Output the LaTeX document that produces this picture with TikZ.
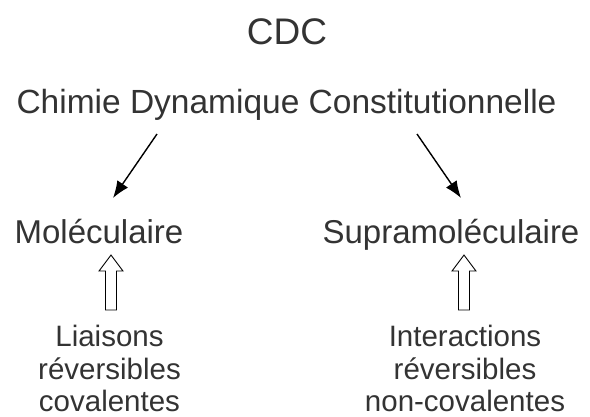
\documentclass[tikz,border=0pt]{standalone}
\usepackage{fontspec}
\setmainfont{Liberation Sans}
\usetikzlibrary{arrows.meta}
\definecolor{txt}{HTML}{333333}
\begin{document}
\begin{tikzpicture}[x=1pt,y=-1pt,
  lbl/.style={anchor=base,inner sep=0pt,text=txt,font=\fontsize{33}{40}\selectfont},
  small/.style={anchor=base,inner sep=0pt,text=txt,font=\fontsize{29.5}{34}\selectfont,align=center},
  thinarrow/.style={line width=1.4pt,-{Latex[length=17pt,width=13pt]}},
  hollow/.style={draw=black,fill=white,line width=0.9pt,line join=miter}]
\useasboundingbox (0,0) rectangle (590,416);
\node[lbl,font=\fontsize{37}{40}\selectfont] (cdc) at (287,44) {CDC};
\node[lbl,font=\fontsize{33.5}{40}\selectfont] (cdc2) at (286.5,113) {Chimie Dynamique Constitutionnelle};
\node[lbl] (mol) at (99,243) {Moléculaire};
\node[lbl] (supra) at (451,243) {Supramoléculaire};
\node[small] (liai) at (109.5,346) {Liaisons};
\node[small] (liai2) at (109.5,379) {réversibles};
\node[small] (liai3) at (109.5,411) {covalentes};
\node[small] (inter) at (465,346) {Interactions};
\node[small] (inter2) at (465,379) {réversibles};
\node[small] (inter3) at (465,411) {non-covalentes};
\coordinate (a1s) at (157,134);
\coordinate (a1e) at (113,198);
\coordinate (a2s) at (417,134);
\coordinate (a2e) at (461,198);
\draw[thinarrow] (a1s) -- (a1e);
\draw[thinarrow] (a2s) -- (a2e);
\foreach \c in {111,464}{
  \draw[hollow] (\c,255) -- (\c+12,271) -- (\c+5.5,271) -- (\c+5.5,310) -- (\c-5.5,310) -- (\c-5.5,271) -- (\c-12,271) -- cycle;
}
\end{tikzpicture}
\end{document}
